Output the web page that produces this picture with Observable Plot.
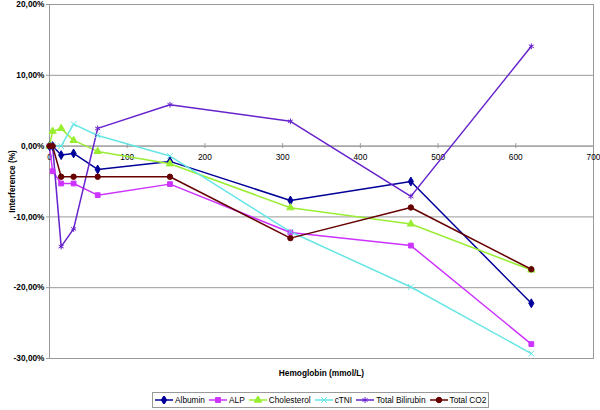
<!DOCTYPE html>
<html><head><meta charset="utf-8">
<script src="https://cdn.jsdelivr.net/npm/d3@7"></script>
<script src="https://cdn.jsdelivr.net/npm/@observablehq/plot@0.6"></script>
<style>
body{margin:0;background:#fff;font-family:"Liberation Sans",Arial,sans-serif}
#wrap{position:relative;width:600px;height:410px}
#legend{position:absolute;left:152px;top:392px;width:337px;height:16px;box-sizing:border-box;border:1px solid #999;display:flex;align-items:center;font-size:8.3px;padding-left:2px;gap:4px;color:#000;background:#fff}
#legend .it{display:flex;align-items:center;gap:2px;white-space:nowrap}
</style></head>
<body><div id="wrap"><div id="chart"></div><div id="legend"></div></div>
<script>
const hemoglobin = [0, 4, 15, 31, 62, 155, 310, 465, 620];
const seriesNames = ["Albumin", "ALP", "Cholesterol", "cTNI", "Total Bilirubin", "Total CO2"];
const albumin     = [0, 0, -1.27, -1.03, -3.3, -2.16, -7.68, -5.0, -22.2];
const alp         = [0, -3.55, -5.28, -5.28, -6.93, -5.37, -12.2, -14.05, -27.96];
const cholesterol = [0, 2.1, 2.5, 0.8, -0.75, -2.5, -8.7, -11.0, -17.5];
const ctni        = [0, 0, 0, 3.1, 1.5, -1.4, -12.1, -19.9, -29.3];
const bilirubin   = [0, 0, -14.2, -11.7, 2.5, 5.85, 3.5, -7.1, 14.1];
const co2         = [0, 0, -4.33, -4.33, -4.33, -4.33, -13.0, -8.67, -17.4];
const colors  = ["#000099", "#CC33FF", "#99EE33", "#66E5E5", "#6622CC", "#660000"];
const symbols = ["diamond", "square", "triangle", "times", "asterisk", "circle"];
const xTicks = [0, 100, 200, 300, 400, 500, 600, 700];
const yTicks = [-30, -20, -10, 0, 10, 20];

const values = [albumin, alp, cholesterol, ctni, bilirubin, co2];
const data = seriesNames.flatMap((s, i) => hemoglobin.map((h, j) => ({series: s, x: h, y: values[i][j]})));
const fmt = d => d.toFixed(2).replace(".", ",") + "%";

const chart = Plot.plot({
  width: 600, height: 390,
  marginTop: 4, marginRight: 7, marginBottom: 32, marginLeft: 49,
  style: {fontFamily: "'Liberation Sans', Arial, sans-serif", fontSize: "8.3px", color: "#000", background: "#fff"},
  x: {domain: [0, 700], axis: null},
  y: {domain: [-30, 20]},
  color: {domain: seriesNames, range: colors},
  symbol: {domain: seriesNames, range: symbols},
  marks: [
    Plot.gridY(yTicks, {stroke: "#999", strokeOpacity: 1}),
    Plot.frame({stroke: "#999"}),
    Plot.axisY(yTicks, {tickFormat: fmt, tickSize: 3, tickPadding: 2, stroke: "#999",
      label: "Interference (%)", labelAnchor: "center", labelArrow: "none", labelOffset: 40, fontWeight: "bold"}),
    Plot.ruleY([0], {stroke: "#999"}),
    Plot.ruleX(xTicks, {x: d => d, y1: -0.35, y2: 0.35, stroke: "#999"}),
    Plot.text(xTicks, {x: d => d, y: 0, dy: 11, text: d => String(d), fill: "#000"}),
    Plot.text(["Hemoglobin (mmol/L)"], {frameAnchor: "bottom", dy: 17, text: d => d, fontWeight: "bold", fill: "#000"}),
    Plot.line(data, {x: "x", y: "y", z: "series", stroke: "series", strokeWidth: 1.5}),
    Plot.dot(data, {x: "x", y: "y", symbol: "series", fill: "series", stroke: "series", strokeWidth: 1, r: 2.7})
  ]
});
document.getElementById("chart").appendChild(chart);
const leg = document.getElementById("legend");
const d3sym = {diamond: d3.symbolDiamond, square: d3.symbolSquare, triangle: d3.symbolTriangle, times: d3.symbolTimes, asterisk: d3.symbolAsterisk, circle: d3.symbolCircle};
seriesNames.forEach((s, i) => {
  const it = document.createElement("div"); it.className = "it";
  const p = d3.symbol(d3sym[symbols[i]], 24)();
  it.innerHTML = `<svg width="18" height="8"><line x1="0" x2="18" y1="4" y2="4" stroke="${colors[i]}" stroke-width="1.5"/><path transform="translate(9,4)" d="${p}" fill="${colors[i]}" stroke="${colors[i]}" stroke-width="1"/></svg><span>${s}</span>`;
  leg.appendChild(it);
});
</script></body></html>
